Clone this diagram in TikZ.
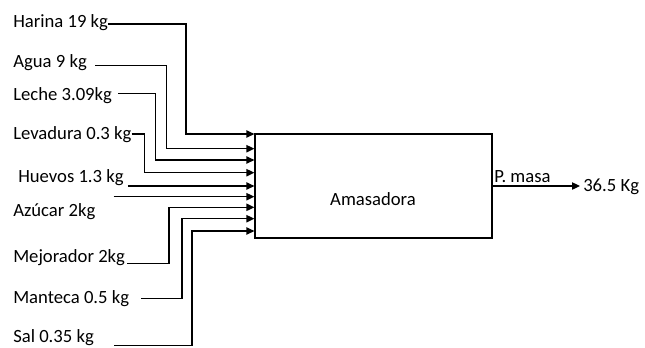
\documentclass[tikz,border=0pt]{standalone}
\usepackage{fontspec}
\setmainfont{Carlito}
\usetikzlibrary{arrows.meta}
\begin{document}
\begin{tikzpicture}[x=0.75pt,y=-0.75pt,
  lbl/.style={anchor=west,inner sep=0pt,font=\fontsize{14}{16}\selectfont},
  arr/.style={line width=0.9pt,-{Triangle[length=6pt,width=5.5pt]}},
  ln/.style={line width=0.9pt}]
\useasboundingbox (0,0) rectangle (645,347);
% process box
\node[draw,line width=0.9pt,minimum width=177.75pt,minimum height=78pt,inner sep=0pt] (box) at (373.5,186) {};
\node[lbl,anchor=center] (amas) at (373,199) {Amasadora};
% input labels
\node[lbl] (harina) at (13,23) {Harina 19 kg};
\node[lbl] (agua) at (13,63) {Agua 9 kg};
\node[lbl] (leche) at (13,96) {Leche 3.09kg};
\node[lbl] (lev) at (13,135) {Levadura 0.3 kg};
\node[lbl] (huevos) at (18,178) {Huevos 1.3 kg};
\node[lbl] (azucar) at (13,211.7) {Azúcar 2kg};
\node[lbl] (mejor) at (13,258) {Mejorador 2kg};
\node[lbl] (mant) at (13,299) {Manteca 0.5 kg};
\node[lbl] (sal) at (13,338) {Sal 0.35 kg};
% arrow tips on the box
\coordinate (t1) at (box.west |- 0,134);
\coordinate (t2) at (box.west |- 0,148.7);
\coordinate (t3) at (box.west |- 0,160);
\coordinate (t4) at (box.west |- 0,172.7);
\coordinate (t5) at (box.west |- 0,186);
\coordinate (t6) at (box.west |- 0,196.7);
\coordinate (t7) at (box.west |- 0,207.3);
\coordinate (t8) at (box.west |- 0,218.7);
\coordinate (t9) at (box.west |- 0,231);
% connectors
\draw[arr] ([yshift=-0.75pt]harina.east) -| (186,134) -- (t1);
\draw[arr] ([xshift=6pt,yshift=-2pt]agua.east) -| (166.7,148.7) -- (t2);
\draw[arr] ([xshift=4.5pt,yshift=1.7pt]leche.east) -| (155.5,160) -- (t3);
\draw[arr] ([yshift=0.75pt]lev.east) -| (144.3,172.7) -- (t4);
\draw[arr] ([xshift=3pt,yshift=-6pt]huevos.east) -- (t5);
\draw[arr] ([xshift=13.5pt,yshift=11.25pt]azucar.east) -- (t6);
\draw[arr] ([xshift=1.5pt,yshift=-4pt]mejor.east) -| (169,207.3) -- (t7);
\draw[arr] ([xshift=9pt,yshift=0.5pt]mant.east) -| (182,218.7) -- (t8);
\draw[arr] ([xshift=15pt,yshift=-5.8pt]sal.east) -| (192,231) -- (t9);
% output
\node[lbl] (res) at (583,186.7) {36.5 Kg};
\node[lbl] (pm) at (494,177) {P. masa};
\draw[arr,shorten >=2.25pt] (box.east) -- (box.east -| res.west);
\end{tikzpicture}
\end{document}
